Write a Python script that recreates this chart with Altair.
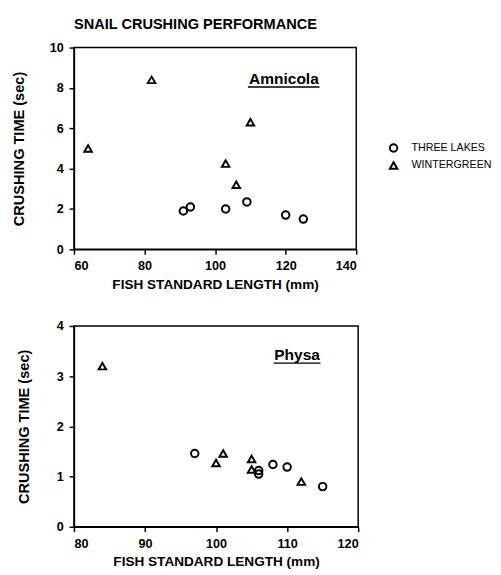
import altair as alt
import pandas as pd

# Amnicola (top panel)
top_tl_x = [91, 93, 103, 109, 120, 125]
top_tl_y = [1.9, 2.1, 2.0, 2.35, 1.7, 1.5]
top_wg_x = [64, 82, 103, 106, 110]
top_wg_y = [5.0, 8.4, 4.25, 3.2, 6.3]

# Physa (bottom panel)
bot_tl_x = [97, 106, 106, 108, 110, 115]
bot_tl_y = [1.46, 1.12, 1.05, 1.24, 1.19, 0.8]
bot_wg_x = [84, 100, 101, 105, 105, 112]
bot_wg_y = [3.2, 1.27, 1.46, 1.35, 1.14, 0.9]

series = ["THREE LAKES", "WINTERGREEN"]
shapes = ["circle", "triangle-up"]

top_xticks = [60, 80, 100, 120, 140]
top_yticks = [0, 2, 4, 6, 8, 10]
bot_xticks = [80, 90, 100, 110, 120]
bot_yticks = [0, 1, 2, 3, 4]

# annotation: label, x, y, underline x range, underline y
top_ann = {"label": ["Amnicola"], "x": [119.5], "y": [8.45], "x1": [109.3], "x2": [129.6], "yu": [8.05]}
bot_ann = {"label": ["Physa"], "x": [111.4], "y": [3.42], "x1": [108.1], "x2": [114.7], "yu": [3.26]}

FONT = "Liberation Sans"
XTITLE = "FISH STANDARD LENGTH (mm)"
YTITLE = "CRUSHING TIME (sec)"


def make_df(tlx, tly, wgx, wgy):
    rows = [{"x": a, "y": b, "s": series[0]} for a, b in zip(tlx, tly)]
    rows += [{"x": a, "y": b, "s": series[1]} for a, b in zip(wgx, wgy)]
    return pd.DataFrame(rows)


def panel(df, xdom, xticks, ydom, yticks, ann, w, h, ytp, title=None, legend=None):
    xs = alt.X("x:Q", scale=alt.Scale(domain=xdom, nice=False, zero=False),
               axis=alt.Axis(values=xticks, title=XTITLE, titlePadding=5))
    ys = alt.Y("y:Q", scale=alt.Scale(domain=ydom, nice=False, zero=True),
               axis=alt.Axis(values=yticks, title=YTITLE, titlePadding=ytp, format="d",
                             titleFontSize=15))
    pts = alt.Chart(df).mark_point(filled=False, color="black", strokeWidth=2, size=60, opacity=1).encode(
        x=xs, y=ys,
        shape=alt.Shape("s:N", scale=alt.Scale(domain=series, range=shapes), legend=legend),
    )
    adf = pd.DataFrame(ann)
    txt = alt.Chart(adf).mark_text(font=FONT, fontWeight="bold", fontSize=16, baseline="middle",
                                   align="center", color="black").encode(
        x="x:Q", y="y:Q", text="label:N")
    ul = alt.Chart(adf).mark_rule(color="black", strokeWidth=1.5).encode(
        x="x1:Q", x2="x2:Q", y="yu:Q")
    ch = alt.layer(pts, txt, ul).properties(width=w, height=h)
    if title is not None:
        ch = ch.properties(title=title)
    return ch


top_df = make_df(top_tl_x, top_tl_y, top_wg_x, top_wg_y)
bot_df = make_df(bot_tl_x, bot_tl_y, bot_wg_x, bot_wg_y)

leg = alt.Legend(title=None, orient="none", legendX=324, legendY=98, padding=0,
                 labelFont=FONT, labelFontSize=11, labelColor="black",
                 symbolStrokeColor="black", symbolStrokeWidth=2, symbolSize=60,
                 rowPadding=2, labelOffset=13)

title = alt.TitleParams("SNAIL CRUSHING PERFORMANCE", anchor="start", frame="group",
                        font=FONT, fontSize=15, fontWeight="bold", color="black", offset=10)

top = panel(top_df, [60, 140], top_xticks, [0, 10], top_yticks, top_ann, 291, 208, 24,
            title=title, legend=leg)
bot = panel(bot_df, [80, 120], bot_xticks, [0, 4], bot_yticks, bot_ann, 293, 207, 26,
            legend=None)

chart = alt.vconcat(top, bot, spacing=28).resolve_legend(shape="independent").properties(
    padding={"left": 2, "top": 0, "right": 0, "bottom": 0}
).configure_view(
    stroke="black", strokeWidth=1.5
).configure_axis(
    domainColor="black", domainWidth=1.5, tickColor="black", tickWidth=1.5, tickSize=5,
    labelFont=FONT, labelFontSize=13, labelFontWeight="bold", labelColor="black", labelPadding=6,
    titleFont=FONT, titleFontSize=14, titleFontWeight="bold", titleColor="black", grid=False,
)

chart.save("out.html", embed_options={"renderer": "svg", "actions": False})
